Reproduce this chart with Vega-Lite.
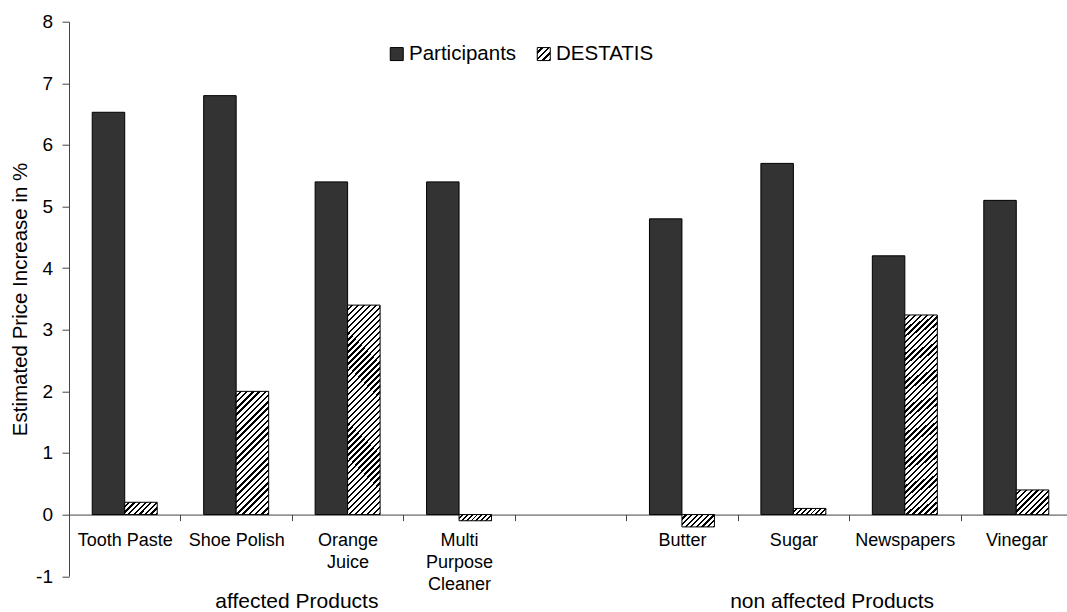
{
  "$schema": "https://vega.github.io/schema/vega-lite/v6.json",
  "width": 998,
  "height": 554.5,
  "autosize": {"type": "none"},
  "padding": {"left": 69, "top": 21.7, "right": 0, "bottom": 35.8},
  "background": "white",
  "config": {
    "font": "Liberation Sans",
    "view": {"stroke": null},
    "axis": {"labelColor": "black", "titleColor": "black", "domainColor": "#444", "tickColor": "#444", "grid": false}
  },
  "layer": [
    {
      "data": {
        "values": [
          {"product": "Tooth Paste", "series": "Participants", "value": 6.53},
          {"product": "Tooth Paste", "series": "DESTATIS", "value": 0.2},
          {"product": "Shoe Polish", "series": "Participants", "value": 6.8},
          {"product": "Shoe Polish", "series": "DESTATIS", "value": 2.0},
          {"product": "Orange Juice", "series": "Participants", "value": 5.4},
          {"product": "Orange Juice", "series": "DESTATIS", "value": 3.4},
          {"product": "Multi Purpose Cleaner", "series": "Participants", "value": 5.4},
          {"product": "Multi Purpose Cleaner", "series": "DESTATIS", "value": -0.1},
          {"product": "Butter", "series": "Participants", "value": 4.8},
          {"product": "Butter", "series": "DESTATIS", "value": -0.2},
          {"product": "Sugar", "series": "Participants", "value": 5.7},
          {"product": "Sugar", "series": "DESTATIS", "value": 0.1},
          {"product": "Newspapers", "series": "Participants", "value": 4.2},
          {"product": "Newspapers", "series": "DESTATIS", "value": 3.24},
          {"product": "Vinegar", "series": "Participants", "value": 5.1},
          {"product": "Vinegar", "series": "DESTATIS", "value": 0.4}
        ]
      },
      "mark": {"type": "bar", "stroke": "black", "strokeWidth": 1},
      "encoding": {
        "x": {
          "field": "product",
          "type": "nominal",
          "sort": null,
          "scale": {
            "domain": ["Tooth Paste", "Shoe Polish", "Orange Juice", "Multi Purpose Cleaner", " ", "Butter", "Sugar", "Newspapers", "Vinegar"],
            "range": [0, 1003],
            "paddingInner": 0,
            "paddingOuter": 0
          },
          "axis": {
            "title": null,
            "orient": "bottom",
            "offset": -61.61,
            "tickBand": "extent",
            "tickSize": 6,
            "labelAngle": 0,
            "labelPadding": 11,
            "labelFontSize": 18,
            "labelLineHeight": 22,
            "labelBaseline": "top",
            "labelExpr": "datum.value == 'Orange Juice' ? ['Orange', 'Juice'] : datum.value == 'Multi Purpose Cleaner' ? ['Multi', 'Purpose', 'Cleaner'] : datum.value"
          }
        },
        "xOffset": {
          "field": "series",
          "type": "nominal",
          "sort": null,
          "scale": {"domain": ["Participants", "DESTATIS"], "paddingInner": 0, "paddingOuter": 0.715}
        },
        "y": {
          "field": "value",
          "type": "quantitative",
          "scale": {"domain": [-1, 8], "nice": false, "zero": false},
          "axis": {
            "values": [-1, 0, 1, 2, 3, 4, 5, 6, 7, 8],
            "labelExpr": "toString(datum.value)",
            "tickSize": 7,
            "labelPadding": 9.5,
            "labelFontSize": 19,
            "title": "Estimated Price Increase in %",
            "titleFontSize": 20.5,
            "titleFontWeight": "normal",
            "titleAngle": -90,
            "titleBaseline": "alphabetic",
            "titleAlign": "center",
            "titleX": -42.3,
            "titleY": 277.25
          }
        },
        "fill": {
          "condition": [
            {
              "test": "datum.series === 'DESTATIS' && abs(datum.value) > 3",
              "value": {"gradient": "linear", "x1": 0, "y1": 0, "x2": 0.1792, "y2": 1.1301, "stops": [
                {"offset": 0, "color": "#fff"}, {"offset": 0.015, "color": "#fff"}, {"offset": 0.015, "color": "#000"}, {"offset": 0.025, "color": "#000"},
                {"offset": 0.025, "color": "#fff"}, {"offset": 0.04, "color": "#fff"}, {"offset": 0.04, "color": "#000"}, {"offset": 0.05, "color": "#000"},
                {"offset": 0.05, "color": "#fff"}, {"offset": 0.065, "color": "#fff"}, {"offset": 0.065, "color": "#000"}, {"offset": 0.075, "color": "#000"},
                {"offset": 0.075, "color": "#fff"}, {"offset": 0.09, "color": "#fff"}, {"offset": 0.09, "color": "#000"}, {"offset": 0.1, "color": "#000"},
                {"offset": 0.1, "color": "#fff"}, {"offset": 0.115, "color": "#fff"}, {"offset": 0.115, "color": "#000"}, {"offset": 0.125, "color": "#000"},
                {"offset": 0.125, "color": "#fff"}, {"offset": 0.14, "color": "#fff"}, {"offset": 0.14, "color": "#000"}, {"offset": 0.15, "color": "#000"},
                {"offset": 0.15, "color": "#fff"}, {"offset": 0.165, "color": "#fff"}, {"offset": 0.165, "color": "#000"}, {"offset": 0.175, "color": "#000"},
                {"offset": 0.175, "color": "#fff"}, {"offset": 0.19, "color": "#fff"}, {"offset": 0.19, "color": "#000"}, {"offset": 0.2, "color": "#000"},
                {"offset": 0.2, "color": "#fff"}, {"offset": 0.215, "color": "#fff"}, {"offset": 0.215, "color": "#000"}, {"offset": 0.225, "color": "#000"},
                {"offset": 0.225, "color": "#fff"}, {"offset": 0.24, "color": "#fff"}, {"offset": 0.24, "color": "#000"}, {"offset": 0.25, "color": "#000"},
                {"offset": 0.25, "color": "#fff"}, {"offset": 0.265, "color": "#fff"}, {"offset": 0.265, "color": "#000"}, {"offset": 0.275, "color": "#000"},
                {"offset": 0.275, "color": "#fff"}, {"offset": 0.29, "color": "#fff"}, {"offset": 0.29, "color": "#000"}, {"offset": 0.3, "color": "#000"},
                {"offset": 0.3, "color": "#fff"}, {"offset": 0.315, "color": "#fff"}, {"offset": 0.315, "color": "#000"}, {"offset": 0.325, "color": "#000"},
                {"offset": 0.325, "color": "#fff"}, {"offset": 0.34, "color": "#fff"}, {"offset": 0.34, "color": "#000"}, {"offset": 0.35, "color": "#000"},
                {"offset": 0.35, "color": "#fff"}, {"offset": 0.365, "color": "#fff"}, {"offset": 0.365, "color": "#000"}, {"offset": 0.375, "color": "#000"},
                {"offset": 0.375, "color": "#fff"}, {"offset": 0.39, "color": "#fff"}, {"offset": 0.39, "color": "#000"}, {"offset": 0.4, "color": "#000"},
                {"offset": 0.4, "color": "#fff"}, {"offset": 0.415, "color": "#fff"}, {"offset": 0.415, "color": "#000"}, {"offset": 0.425, "color": "#000"},
                {"offset": 0.425, "color": "#fff"}, {"offset": 0.44, "color": "#fff"}, {"offset": 0.44, "color": "#000"}, {"offset": 0.45, "color": "#000"},
                {"offset": 0.45, "color": "#fff"}, {"offset": 0.465, "color": "#fff"}, {"offset": 0.465, "color": "#000"}, {"offset": 0.475, "color": "#000"},
                {"offset": 0.475, "color": "#fff"}, {"offset": 0.49, "color": "#fff"}, {"offset": 0.49, "color": "#000"}, {"offset": 0.5, "color": "#000"},
                {"offset": 0.5, "color": "#fff"}, {"offset": 0.515, "color": "#fff"}, {"offset": 0.515, "color": "#000"}, {"offset": 0.525, "color": "#000"},
                {"offset": 0.525, "color": "#fff"}, {"offset": 0.54, "color": "#fff"}, {"offset": 0.54, "color": "#000"}, {"offset": 0.55, "color": "#000"},
                {"offset": 0.55, "color": "#fff"}, {"offset": 0.565, "color": "#fff"}, {"offset": 0.565, "color": "#000"}, {"offset": 0.575, "color": "#000"},
                {"offset": 0.575, "color": "#fff"}, {"offset": 0.59, "color": "#fff"}, {"offset": 0.59, "color": "#000"}, {"offset": 0.6, "color": "#000"},
                {"offset": 0.6, "color": "#fff"}, {"offset": 0.615, "color": "#fff"}, {"offset": 0.615, "color": "#000"}, {"offset": 0.625, "color": "#000"},
                {"offset": 0.625, "color": "#fff"}, {"offset": 0.64, "color": "#fff"}, {"offset": 0.64, "color": "#000"}, {"offset": 0.65, "color": "#000"},
                {"offset": 0.65, "color": "#fff"}, {"offset": 0.665, "color": "#fff"}, {"offset": 0.665, "color": "#000"}, {"offset": 0.675, "color": "#000"},
                {"offset": 0.675, "color": "#fff"}, {"offset": 0.69, "color": "#fff"}, {"offset": 0.69, "color": "#000"}, {"offset": 0.7, "color": "#000"},
                {"offset": 0.7, "color": "#fff"}, {"offset": 0.715, "color": "#fff"}, {"offset": 0.715, "color": "#000"}, {"offset": 0.725, "color": "#000"},
                {"offset": 0.725, "color": "#fff"}, {"offset": 0.74, "color": "#fff"}, {"offset": 0.74, "color": "#000"}, {"offset": 0.75, "color": "#000"},
                {"offset": 0.75, "color": "#fff"}, {"offset": 0.765, "color": "#fff"}, {"offset": 0.765, "color": "#000"}, {"offset": 0.775, "color": "#000"},
                {"offset": 0.775, "color": "#fff"}, {"offset": 0.79, "color": "#fff"}, {"offset": 0.79, "color": "#000"}, {"offset": 0.8, "color": "#000"},
                {"offset": 0.8, "color": "#fff"}, {"offset": 0.815, "color": "#fff"}, {"offset": 0.815, "color": "#000"}, {"offset": 0.825, "color": "#000"},
                {"offset": 0.825, "color": "#fff"}, {"offset": 0.84, "color": "#fff"}, {"offset": 0.84, "color": "#000"}, {"offset": 0.85, "color": "#000"},
                {"offset": 0.85, "color": "#fff"}, {"offset": 0.865, "color": "#fff"}, {"offset": 0.865, "color": "#000"}, {"offset": 0.875, "color": "#000"},
                {"offset": 0.875, "color": "#fff"}, {"offset": 0.89, "color": "#fff"}, {"offset": 0.89, "color": "#000"}, {"offset": 0.9, "color": "#000"},
                {"offset": 0.9, "color": "#fff"}, {"offset": 0.915, "color": "#fff"}, {"offset": 0.915, "color": "#000"}, {"offset": 0.925, "color": "#000"},
                {"offset": 0.925, "color": "#fff"}, {"offset": 0.94, "color": "#fff"}, {"offset": 0.94, "color": "#000"}, {"offset": 0.95, "color": "#000"},
                {"offset": 0.95, "color": "#fff"}, {"offset": 0.965, "color": "#fff"}, {"offset": 0.965, "color": "#000"}, {"offset": 0.975, "color": "#000"},
                {"offset": 0.975, "color": "#fff"}, {"offset": 0.99, "color": "#fff"}, {"offset": 0.99, "color": "#000"}, {"offset": 1, "color": "#000"}
              ]}
            },
            {
              "test": "datum.series === 'DESTATIS' && abs(datum.value) > 1",
              "value": {"gradient": "linear", "x1": 0, "y1": 0, "x2": 0.3117, "y2": 1.1816, "stops": [
                {"offset": 0, "color": "#fff"}, {"offset": 0.024, "color": "#fff"}, {"offset": 0.024, "color": "#000"}, {"offset": 0.04, "color": "#000"},
                {"offset": 0.04, "color": "#fff"}, {"offset": 0.064, "color": "#fff"}, {"offset": 0.064, "color": "#000"}, {"offset": 0.08, "color": "#000"},
                {"offset": 0.08, "color": "#fff"}, {"offset": 0.104, "color": "#fff"}, {"offset": 0.104, "color": "#000"}, {"offset": 0.12, "color": "#000"},
                {"offset": 0.12, "color": "#fff"}, {"offset": 0.144, "color": "#fff"}, {"offset": 0.144, "color": "#000"}, {"offset": 0.16, "color": "#000"},
                {"offset": 0.16, "color": "#fff"}, {"offset": 0.184, "color": "#fff"}, {"offset": 0.184, "color": "#000"}, {"offset": 0.2, "color": "#000"},
                {"offset": 0.2, "color": "#fff"}, {"offset": 0.224, "color": "#fff"}, {"offset": 0.224, "color": "#000"}, {"offset": 0.24, "color": "#000"},
                {"offset": 0.24, "color": "#fff"}, {"offset": 0.264, "color": "#fff"}, {"offset": 0.264, "color": "#000"}, {"offset": 0.28, "color": "#000"},
                {"offset": 0.28, "color": "#fff"}, {"offset": 0.304, "color": "#fff"}, {"offset": 0.304, "color": "#000"}, {"offset": 0.32, "color": "#000"},
                {"offset": 0.32, "color": "#fff"}, {"offset": 0.344, "color": "#fff"}, {"offset": 0.344, "color": "#000"}, {"offset": 0.36, "color": "#000"},
                {"offset": 0.36, "color": "#fff"}, {"offset": 0.384, "color": "#fff"}, {"offset": 0.384, "color": "#000"}, {"offset": 0.4, "color": "#000"},
                {"offset": 0.4, "color": "#fff"}, {"offset": 0.424, "color": "#fff"}, {"offset": 0.424, "color": "#000"}, {"offset": 0.44, "color": "#000"},
                {"offset": 0.44, "color": "#fff"}, {"offset": 0.464, "color": "#fff"}, {"offset": 0.464, "color": "#000"}, {"offset": 0.48, "color": "#000"},
                {"offset": 0.48, "color": "#fff"}, {"offset": 0.504, "color": "#fff"}, {"offset": 0.504, "color": "#000"}, {"offset": 0.52, "color": "#000"},
                {"offset": 0.52, "color": "#fff"}, {"offset": 0.544, "color": "#fff"}, {"offset": 0.544, "color": "#000"}, {"offset": 0.56, "color": "#000"},
                {"offset": 0.56, "color": "#fff"}, {"offset": 0.584, "color": "#fff"}, {"offset": 0.584, "color": "#000"}, {"offset": 0.6, "color": "#000"},
                {"offset": 0.6, "color": "#fff"}, {"offset": 0.624, "color": "#fff"}, {"offset": 0.624, "color": "#000"}, {"offset": 0.64, "color": "#000"},
                {"offset": 0.64, "color": "#fff"}, {"offset": 0.664, "color": "#fff"}, {"offset": 0.664, "color": "#000"}, {"offset": 0.68, "color": "#000"},
                {"offset": 0.68, "color": "#fff"}, {"offset": 0.704, "color": "#fff"}, {"offset": 0.704, "color": "#000"}, {"offset": 0.72, "color": "#000"},
                {"offset": 0.72, "color": "#fff"}, {"offset": 0.744, "color": "#fff"}, {"offset": 0.744, "color": "#000"}, {"offset": 0.76, "color": "#000"},
                {"offset": 0.76, "color": "#fff"}, {"offset": 0.784, "color": "#fff"}, {"offset": 0.784, "color": "#000"}, {"offset": 0.8, "color": "#000"},
                {"offset": 0.8, "color": "#fff"}, {"offset": 0.824, "color": "#fff"}, {"offset": 0.824, "color": "#000"}, {"offset": 0.84, "color": "#000"},
                {"offset": 0.84, "color": "#fff"}, {"offset": 0.864, "color": "#fff"}, {"offset": 0.864, "color": "#000"}, {"offset": 0.88, "color": "#000"},
                {"offset": 0.88, "color": "#fff"}, {"offset": 0.904, "color": "#fff"}, {"offset": 0.904, "color": "#000"}, {"offset": 0.92, "color": "#000"},
                {"offset": 0.92, "color": "#fff"}, {"offset": 0.944, "color": "#fff"}, {"offset": 0.944, "color": "#000"}, {"offset": 0.96, "color": "#000"},
                {"offset": 0.96, "color": "#fff"}, {"offset": 0.984, "color": "#fff"}, {"offset": 0.984, "color": "#000"}, {"offset": 1, "color": "#000"}
              ]}
            },
            {
              "test": "datum.series === 'DESTATIS' && abs(datum.value) > 0.3",
              "value": {"gradient": "linear", "x1": 0, "y1": 0, "x2": 1.117, "y2": 0.8455, "stops": [
                {"offset": 0, "color": "#fff"}, {"offset": 0.06, "color": "#fff"}, {"offset": 0.06, "color": "#000"}, {"offset": 0.1, "color": "#000"},
                {"offset": 0.1, "color": "#fff"}, {"offset": 0.16, "color": "#fff"}, {"offset": 0.16, "color": "#000"}, {"offset": 0.2, "color": "#000"},
                {"offset": 0.2, "color": "#fff"}, {"offset": 0.26, "color": "#fff"}, {"offset": 0.26, "color": "#000"}, {"offset": 0.3, "color": "#000"},
                {"offset": 0.3, "color": "#fff"}, {"offset": 0.36, "color": "#fff"}, {"offset": 0.36, "color": "#000"}, {"offset": 0.4, "color": "#000"},
                {"offset": 0.4, "color": "#fff"}, {"offset": 0.46, "color": "#fff"}, {"offset": 0.46, "color": "#000"}, {"offset": 0.5, "color": "#000"},
                {"offset": 0.5, "color": "#fff"}, {"offset": 0.56, "color": "#fff"}, {"offset": 0.56, "color": "#000"}, {"offset": 0.6, "color": "#000"},
                {"offset": 0.6, "color": "#fff"}, {"offset": 0.66, "color": "#fff"}, {"offset": 0.66, "color": "#000"}, {"offset": 0.7, "color": "#000"},
                {"offset": 0.7, "color": "#fff"}, {"offset": 0.76, "color": "#fff"}, {"offset": 0.76, "color": "#000"}, {"offset": 0.8, "color": "#000"},
                {"offset": 0.8, "color": "#fff"}, {"offset": 0.86, "color": "#fff"}, {"offset": 0.86, "color": "#000"}, {"offset": 0.9, "color": "#000"},
                {"offset": 0.9, "color": "#fff"}, {"offset": 0.96, "color": "#fff"}, {"offset": 0.96, "color": "#000"}, {"offset": 1, "color": "#000"}
              ]}
            },
            {
              "test": "datum.series === 'DESTATIS' && abs(datum.value) > 0.15",
              "value": {"gradient": "linear", "x1": 0, "y1": 0, "x2": 1.2058, "y2": 0.4563, "stops": [
                {"offset": 0, "color": "#fff"}, {"offset": 0.075, "color": "#fff"}, {"offset": 0.075, "color": "#000"}, {"offset": 0.125, "color": "#000"},
                {"offset": 0.125, "color": "#fff"}, {"offset": 0.2, "color": "#fff"}, {"offset": 0.2, "color": "#000"}, {"offset": 0.25, "color": "#000"},
                {"offset": 0.25, "color": "#fff"}, {"offset": 0.325, "color": "#fff"}, {"offset": 0.325, "color": "#000"}, {"offset": 0.375, "color": "#000"},
                {"offset": 0.375, "color": "#fff"}, {"offset": 0.45, "color": "#fff"}, {"offset": 0.45, "color": "#000"}, {"offset": 0.5, "color": "#000"},
                {"offset": 0.5, "color": "#fff"}, {"offset": 0.575, "color": "#fff"}, {"offset": 0.575, "color": "#000"}, {"offset": 0.625, "color": "#000"},
                {"offset": 0.625, "color": "#fff"}, {"offset": 0.7, "color": "#fff"}, {"offset": 0.7, "color": "#000"}, {"offset": 0.75, "color": "#000"},
                {"offset": 0.75, "color": "#fff"}, {"offset": 0.825, "color": "#fff"}, {"offset": 0.825, "color": "#000"}, {"offset": 0.875, "color": "#000"},
                {"offset": 0.875, "color": "#fff"}, {"offset": 0.95, "color": "#fff"}, {"offset": 0.95, "color": "#000"}, {"offset": 1, "color": "#000"}
              ]}
            },
            {
              "test": "datum.series === 'DESTATIS'",
              "value": {"gradient": "linear", "x1": 0, "y1": 0, "x2": 1.149, "y2": 0.2192, "stops": [
                {"offset": 0, "color": "#fff"}, {"offset": 0.075, "color": "#fff"}, {"offset": 0.075, "color": "#000"}, {"offset": 0.125, "color": "#000"},
                {"offset": 0.125, "color": "#fff"}, {"offset": 0.2, "color": "#fff"}, {"offset": 0.2, "color": "#000"}, {"offset": 0.25, "color": "#000"},
                {"offset": 0.25, "color": "#fff"}, {"offset": 0.325, "color": "#fff"}, {"offset": 0.325, "color": "#000"}, {"offset": 0.375, "color": "#000"},
                {"offset": 0.375, "color": "#fff"}, {"offset": 0.45, "color": "#fff"}, {"offset": 0.45, "color": "#000"}, {"offset": 0.5, "color": "#000"},
                {"offset": 0.5, "color": "#fff"}, {"offset": 0.575, "color": "#fff"}, {"offset": 0.575, "color": "#000"}, {"offset": 0.625, "color": "#000"},
                {"offset": 0.625, "color": "#fff"}, {"offset": 0.7, "color": "#fff"}, {"offset": 0.7, "color": "#000"}, {"offset": 0.75, "color": "#000"},
                {"offset": 0.75, "color": "#fff"}, {"offset": 0.825, "color": "#fff"}, {"offset": 0.825, "color": "#000"}, {"offset": 0.875, "color": "#000"},
                {"offset": 0.875, "color": "#fff"}, {"offset": 0.95, "color": "#fff"}, {"offset": 0.95, "color": "#000"}, {"offset": 1, "color": "#000"}
              ]}
            }
          ],
          "field": "series",
          "type": "nominal",
          "scale": {
            "domain": ["Participants", "DESTATIS"],
            "range": [
              "#333333",
              {"expr": "{gradient: 'linear', x1: 0, y1: 0, x2: 1, y2: 1, stops: [{offset: 0, color: '#fff'}, {offset: 0.15, color: '#fff'}, {offset: 0.15, color: '#000'}, {offset: 0.25, color: '#000'}, {offset: 0.25, color: '#fff'}, {offset: 0.4, color: '#fff'}, {offset: 0.4, color: '#000'}, {offset: 0.5, color: '#000'}, {offset: 0.5, color: '#fff'}, {offset: 0.65, color: '#fff'}, {offset: 0.65, color: '#000'}, {offset: 0.75, color: '#000'}, {offset: 0.75, color: '#fff'}, {offset: 0.9, color: '#fff'}, {offset: 0.9, color: '#000'}, {offset: 1, color: '#000'}]}"}
            ]
          },
          "legend": {
            "title": null,
            "orient": "none",
            "legendX": 317.5,
            "legendY": 22,
            "direction": "horizontal",
            "columns": 2,
            "columnPadding": 17,
            "padding": 0,
            "symbolType": "square",
            "symbolSize": 169,
            "symbolStrokeColor": "black",
            "symbolStrokeWidth": 1,
            "labelFontSize": 20.5,
            "labelColor": "black",
            "labelOffset": 2
          }
        }
      }
    },
    {
      "data": {"values": [{"group": "affected Products"}]},
      "mark": {"type": "text", "fontSize": 21, "baseline": "alphabetic", "align": "center", "dy": 32, "dx": 5, "color": "black"},
      "encoding": {
        "x": {"datum": "Orange Juice", "bandPosition": 0},
        "y": {"datum": -1},
        "text": {"field": "group"}
      }
    },
    {
      "data": {"values": [{"group": "non affected Products"}]},
      "mark": {"type": "text", "fontSize": 21, "baseline": "alphabetic", "align": "center", "dy": 32, "dx": -17, "color": "black"},
      "encoding": {
        "x": {"datum": "Newspapers", "bandPosition": 0},
        "y": {"datum": -1},
        "text": {"field": "group"}
      }
    }
  ]
}
